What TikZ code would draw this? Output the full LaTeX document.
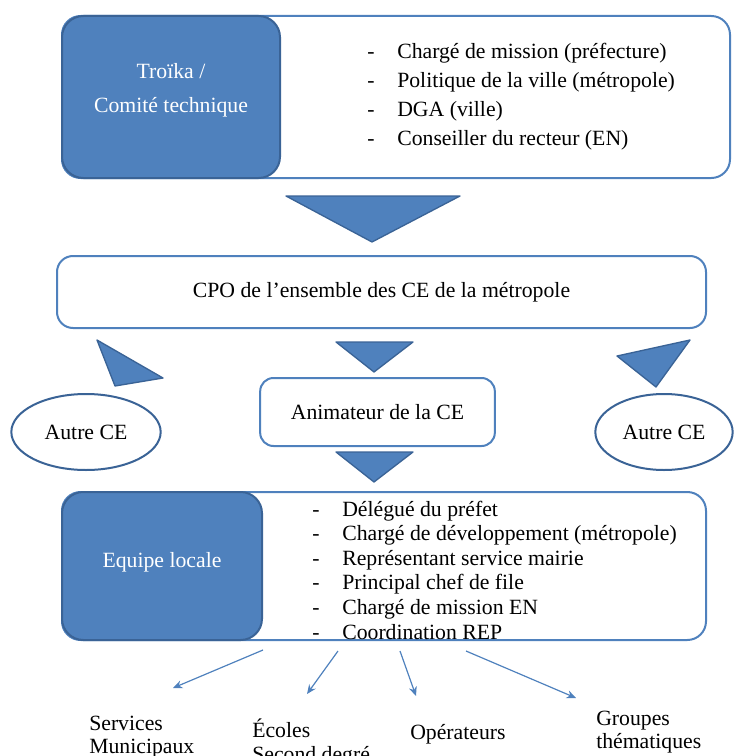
\documentclass[tikz,border=0pt]{standalone}
\usepackage{fontspec}
\setmainfont{Liberation Serif}
\usetikzlibrary{shapes.geometric,arrows.meta}

\definecolor{boxblue}{HTML}{4F81BD}
\definecolor{darkblue}{HTML}{3A6396}

\tikzset{
  frame/.style={draw=boxblue, line width=1.5pt, rounded corners=14pt, fill=white},
  bluebox/.style={draw=darkblue, line width=1.5pt, rounded corners=16pt, fill=boxblue,
    text=white, align=center, font=\fontsize{16.3}{25.5}\selectfont},
  tri/.style={draw=darkblue, fill=boxblue, line width=1pt, line join=round},
  item/.style={anchor=base west, inner sep=0pt, font=\fontsize{16.3}{18}\selectfont},
  other/.style={ellipse, draw=darkblue, line width=1.5pt, fill=white, font=\fontsize{16.3}{18}\selectfont},
  lbl/.style={anchor=north west, align=left, inner sep=0pt, font=\fontsize{16.3}{17.5}\selectfont},
  link/.style={draw=boxblue, line width=0.9pt, -{Stealth[length=7pt,width=6pt]}}
}

\begin{document}
\begin{tikzpicture}[x=0.75pt, y=-0.75pt]
  \useasboundingbox (0,0) rectangle (733,756);

  % Top block: troika
  \node[frame, minimum width=501pt, minimum height=121.5pt] (topframe) at (396,97) {};
  \node[bluebox, minimum width=163.5pt, minimum height=121.5pt] (troika) at (171,97) {};
  \node[text=white, align=center, font=\fontsize{16.3}{25.5}\selectfont] at (171,90)
    {Troïka /\\ Comité technique};
  \foreach \t [count=\i] in {Chargé de mission (préfecture), Politique de la ville (métropole),
      DGA (ville), Conseiller du recteur (EN)} {
    \node[item] at (367, 59+\i*28.7-28.7) {-};
    \node[item] at (397, 59+\i*28.7-28.7) {\t};
  }

  \filldraw[tri] (286,196) -- (460,196) -- (372,242) -- cycle;

  % CPO
  \node[frame, rounded corners=12pt, minimum width=486.75pt, minimum height=54pt,
    font=\fontsize{16.3}{18}\selectfont] (cpo) at (381.5,292)
    {CPO de l’ensemble des CE de la métropole};

  % Arrows between CPO and the CE
  \filldraw[tri] (97,340) -- (163,378) -- (115,386) -- cycle;
  \filldraw[tri] (690,340) -- (656,387) -- (617,356) -- cycle;
  \filldraw[tri] (336,342) -- (413,342) -- (374,372) -- cycle;

  \node[frame, rounded corners=10pt, minimum width=176pt, minimum height=51pt,
    font=\fontsize{16.3}{18}\selectfont] (anim) at (377.5,412) {Animateur de la CE};
  \node[other, minimum width=112pt, minimum height=57pt] (ce1) at (86,432) {Autre CE};
  \node[other, minimum width=103pt, minimum height=57pt] (ce2) at (664,432) {Autre CE};

  \filldraw[tri] (336,452) -- (413,452) -- (374,482) -- cycle;

  % Bottom block: equipe locale
  \node[frame, minimum width=483pt, minimum height=111pt] (locframe) at (384,566) {};
  \node[bluebox, minimum width=150pt, minimum height=111pt] (equipe) at (162,566) {};
  \node[text=white, font=\fontsize{16.3}{18}\selectfont] at (162,562) {Equipe locale};
  \foreach \t [count=\i] in {Délégué du préfet, Chargé de développement (métropole),
      Représentant service mairie, Principal chef de file, Chargé de mission EN,
      Coordination REP} {
    \node[item] at (312, 516+\i*24.6-24.6) {-};
    \node[item] at (342, 516+\i*24.6-24.6) {\t};
  }

  % Partners
  \node[lbl] (serv) at (89,716) {Services\\ Municipaux};
  \node[lbl] (ecol) at (252,719) {Écoles\\ Second degré};
  \node[lbl] (oper) at (410,724) {Opérateurs};
  \node[lbl] (grp) at (596,711) {Groupes\\ thématiques};

  \coordinate (s1) at (263,650);  \coordinate (e1) at (173,688);
  \coordinate (s2) at (338,651);  \coordinate (e2) at (307,694);
  \coordinate (s3) at (400,651);  \coordinate (e3) at (416,696);
  \coordinate (s4) at (466,651);  \coordinate (e4) at (576,698);
  \draw[link] (s1) -- (e1);
  \draw[link] (s2) -- (e2);
  \draw[link] (s3) -- (e3);
  \draw[link] (s4) -- (e4);
\end{tikzpicture}
\end{document}
